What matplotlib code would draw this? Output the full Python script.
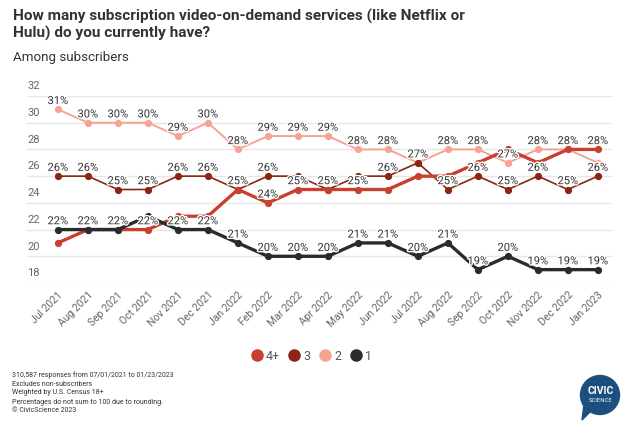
import matplotlib.pyplot as plt
import matplotlib.patheffects as pe
from matplotlib.patches import Circle, Polygon

plt.rcParams['font.family'] = ['Roboto', 'DejaVu Sans']

months = ['Jul 2021', 'Aug 2021', 'Sep 2021', 'Oct 2021', 'Nov 2021', 'Dec 2021',
          'Jan 2022', 'Feb 2022', 'Mar 2022', 'Apr 2022', 'May 2022', 'Jun 2022',
          'Jul 2022', 'Aug 2022', 'Sep 2022', 'Oct 2022', 'Nov 2022', 'Dec 2022',
          'Jan 2023']

four_plus = [21, 22, 22, 22, 23, 23, 25, 24, 25, 25, 25, 25, 26, 26, 27, 28, 27, 28, 28]
three = [26, 26, 25, 25, 26, 26, 25, 26, 26, 25, 26, 26, 27, 25, 26, 25, 26, 25, 26]
two = [31, 30, 30, 30, 29, 30, 28, 29, 29, 29, 28, 28, 27, 28, 28, 27, 28, 28, 27]
one = [22, 22, 22, 23, 22, 22, 21, 20, 20, 20, 21, 21, 20, 21, 19, 20, 19, 19, 19]

# which point labels are visible (the rest overlap and are hidden)
show_four_plus = [0, 0, 0, 1, 0, 0, 1, 1, 1, 1, 1, 0, 0, 0, 0, 0, 0, 1, 1]
show_three = [1, 1, 1, 1, 1, 1, 0, 1, 0, 0, 0, 1, 0, 1, 1, 1, 1, 1, 1]
show_two = [1, 1, 1, 1, 1, 1, 1, 1, 1, 1, 1, 1, 1, 1, 1, 1, 1, 0, 0]
show_one = [1, 1, 1, 0, 1, 1, 1, 1, 1, 1, 1, 1, 1, 1, 1, 1, 1, 1, 1]

yticks = [18, 20, 22, 24, 26, 28, 30, 32]

series = [
    ('4+', four_plus, show_four_plus, '#c8402f', 2.4),
    ('3', three, show_three, '#8a2413', 1.2),
    ('2', two, show_two, '#f7a393', 1.4),
    ('1', one, show_one, '#2a2b30', 2.4),
]

fig = plt.figure(figsize=(6.4, 4.28), dpi=100)
ax = fig.add_axes([27 / 640, 1 - 283 / 428, 585 / 640, 187 / 428])
x = list(range(len(months)))
ax.set_xlim(-1.03, 18.47)
ax.set_ylim(18, 32)

for yv in yticks:
    ax.axhline(yv, color='#e6e6e6', lw=1, zorder=0)
    ax.text(0, yv + 0.35, str(yv), transform=ax.get_yaxis_transform(),
            ha='left', va='bottom', fontsize=8, color='#666666')

# draw order: 2 and 3 under, thick lines on top
for name, vals, show, col, lw in [series[2], series[1], series[0], series[3]]:
    ax.plot(x, vals, color=col, lw=lw, marker='o', ms=4.2, zorder=3,
            solid_capstyle='round')

for name, vals, show, col, lw in series:
    for xi, v, s in zip(x, vals, show):
        if s:
            ax.text(xi, v + 0.25, f'{v}%', ha='center', va='bottom', fontsize=8,
                    color='#333333', zorder=5,
                    path_effects=[pe.withStroke(linewidth=2, foreground='white')])

ax.set_xticks(x)
ax.set_xticklabels(months, rotation=45, ha='right', rotation_mode='anchor',
                   fontsize=7.5, color='#666666')
ax.tick_params(axis='x', length=0, pad=5)
ax.set_yticks([])
for sp in ax.spines.values():
    sp.set_visible(False)

# legend
handles = [plt.Line2D([], [], ls='', marker='o', ms=8, color=s[3]) for s in series]
fig.legend(handles, [s[0] for s in series], loc='center', ncol=4,
           bbox_to_anchor=(0.485, 1 - 356 / 428), frameon=False, fontsize=9,
           handletextpad=0.1, columnspacing=0.6, handlelength=1.2,
           labelcolor='#555555')

fig.text(13 / 640, 1 - 9 / 428,
         'How many subscription video-on-demand services (like Netflix or\nHulu) do you currently have?',
         ha='left', va='top', fontsize=11.1, fontweight='bold', color='#333333',
         linespacing=1.2)
fig.text(13 / 640, 1 - 51 / 428, 'Among subscribers', ha='left', va='top',
         fontsize=9.6, color='#333333')

notes = ['310,587 responses from 07/01/2021 to 01/23/2023',
         'Excludes non-subscribers',
         'Weighted by U.S. Census 18+',
         'Percentages do not sum to 100 due to rounding.',
         '\u00a9 CivicScience 2023']
for i, line in enumerate(notes):
    fig.text(12 / 640, 1 - (375 + 9 * i) / 428, line, ha='left', va='center',
             fontsize=5, color='#333333')

# logo
lax = fig.add_axes([0, 0, 1, 1], zorder=-1)
lax.set_xlim(0, 640)
lax.set_ylim(428, 0)
lax.axis('off')
lax.add_patch(Circle((600, 395), 19.5, color='#1d4f7e'))
lax.add_patch(Polygon([[584, 404], [592, 410], [582, 420]], color='#1d4f7e'))
lax.text(601, 391, 'CIVIC', ha='center', va='center', fontsize=7.5,
         fontweight='bold', color='white')
lax.text(601, 401, 'SCIENCE', ha='center', va='center', fontsize=4.2,
         color='white')

fig.savefig('out.png', dpi=100, facecolor='white')
